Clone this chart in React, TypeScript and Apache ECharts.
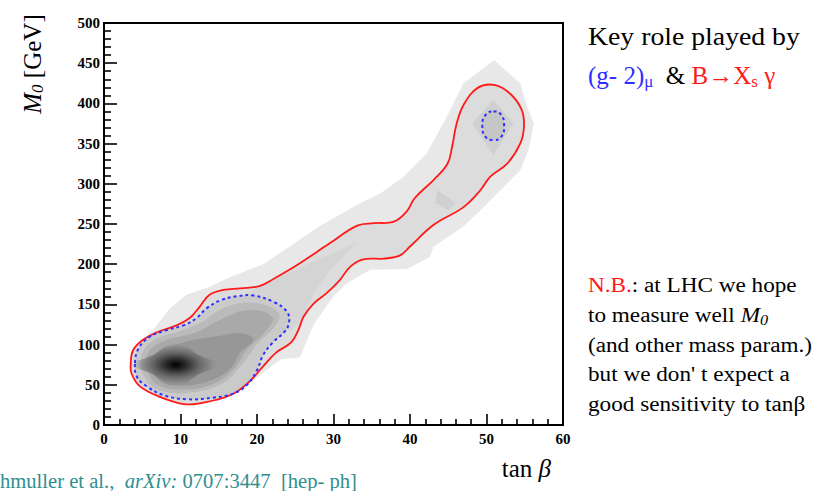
import React, { useEffect, useRef } from "react";
import * as echarts from "echarts";

type P = [number, number];

// Axis ticks (tan beta, M0 in GeV)
const X_TICKS = [0, 10, 20, 30, 40, 50, 60];
const Y_TICKS = [0, 50, 100, 150, 200, 250, 300, 350, 400, 450, 500];

// Outer light-grey likelihood band (tanβ, M0)
const bandOutline: P[] = [
  [3.5, 70], [4.5, 50], [7, 35], [12, 25.5], [16.5, 36], [19.5, 55], [21.2, 68],
  [23.2, 82], [25.6, 84], [27.4, 125], [30, 160], [31.7, 176], [34.8, 193], [39.6, 194],
  [42.6, 209], [43.1, 222], [47.0, 247], [49.2, 267], [51.8, 292], [54.4, 317], [55.5, 342],
  [56.2, 375], [55.3, 396], [54.4, 425], [51.0, 454], [47.0, 425], [44.8, 383], [42.2, 338],
  [39.2, 309], [36.1, 288], [33.9, 278], [28.3, 248], [25.2, 228], [20.8, 200], [16.5, 184],
  [13.8, 172], [10.8, 162], [8.6, 145], [6.4, 118], [5, 106],
];

// Red (outer) contour
const redContour: P[] = [
  [3.5, 77], [3.8, 93], [5.1, 106], [7.1, 116], [9.5, 124], [11.2, 133], [12.5, 147],
  [13.8, 162], [15.6, 168], [17.8, 170], [20.4, 173], [22.2, 182], [25.4, 200], [29.5, 226],
  [33.1, 248], [35.3, 251], [37.9, 253], [39.6, 266], [40.6, 282], [43.1, 305], [44.9, 325],
  [45.5, 346], [46.1, 375], [47.0, 398], [48.8, 419], [51.0, 423], [53.1, 412], [54.6, 392],
  [54.9, 371], [54.4, 350], [52.7, 325], [50.5, 309], [49.2, 292], [47.0, 271], [43.1, 249],
  [40.0, 222], [38.7, 211], [36.6, 207], [33.9, 206], [32.2, 197], [30.8, 180], [29.1, 164],
  [27.4, 151], [26.1, 135], [25.4, 118], [24.5, 103], [22.5, 90], [20.8, 73], [19.0, 54],
  [16.5, 37], [12.5, 27], [10.4, 26], [7.3, 35], [4.7, 48], [3.6, 64],
];

// Blue dashed (inner) contour - main region
const blueContour: P[] = [
  [4.05, 77], [4.5, 95], [6.0, 110], [8.2, 118], [10.4, 124], [12.1, 133], [13.4, 145],
  [15.2, 155], [17.3, 160], [19.5, 161], [22.2, 153], [23.9, 141], [24.2, 128], [23.6, 116],
  [22.1, 103], [20.8, 87], [20.0, 68], [18.7, 50], [16.9, 39], [14.3, 34], [10.8, 32],
  [7.8, 37], [5.6, 48], [4.3, 60],
];

// Blue dashed contour - small island at large tanβ
const blueIsland: P[] = [
  [50.9, 390], [51.9, 386], [52.3, 372], [51.9, 358], [50.9, 354.5], [49.9, 358],
  [49.45, 372], [49.9, 386],
];

// Slightly darker grey structures
const wedge: P[] = [
  [16.5, 153], [22, 180], [33.0, 227], [29.5, 192], [27.4, 164], [26.1, 135], [24.5, 118], [20, 120],
];
const diamondTop: P[] = [[50.9, 405], [53.5, 375], [50.9, 336], [48.1, 375]];
const diamondMid: P[] = [[43.6, 292], [46.0, 276], [45.0, 267], [43.3, 276]];

// Density blob levels around the best fit (≈ tanβ 9.4, M0 75)
const blobL2: P[] = [
  [4.8, 77], [5.3, 95], [7, 108], [10, 117], [12.8, 128], [15.5, 145], [19.5, 152], [22.8, 140],
  [22.5, 125], [20, 100], [18, 75], [15.5, 52], [11, 40], [7, 44], [5.3, 60],
];
const blobL3: P[] = [
  [5.4, 77], [6.1, 94], [8.3, 106], [12, 115], [15, 130], [19, 143], [22, 134], [21, 115],
  [18.8, 95], [17, 70], [14, 50], [10, 44], [7, 50], [5.8, 64],
];
const blobL4: P[] = [
  [6, 77], [7.5, 92], [10.5, 103], [14.5, 110], [18, 114], [19.5, 106], [17.8, 90], [16.5, 70],
  [13.5, 54], [9.5, 49], [7, 57],
];
const blobCore: P[] = [
  [3.8, 75], [6.2, 86], [9.4, 102], [12.6, 86], [15.0, 75], [12.6, 64], [9.4, 48], [6.2, 64],
];

function polySeries(points: P[], style: any, smooth: number) {
  return {
    type: "custom",
    coordinateSystem: "cartesian2d",
    silent: true,
    data: [[points[0][0], points[0][1]]],
    renderItem: (_params: any, api: any) => ({
      type: "polygon",
      shape: { points: points.map((p) => api.coord(p)), smooth },
      style,
    }),
  };
}

const SERIF = "'Liberation Serif', 'DejaVu Serif', 'Times New Roman', serif";
const NB = "\u00a0";

export default function App() {
  const ref = useRef<HTMLDivElement>(null);
  useEffect(() => {
    if (!ref.current) return;
    const chart = echarts.init(ref.current, undefined, { renderer: "svg" });
    const tickLabel = {
      fontFamily: SERIF,
      fontWeight: "bold",
      fontSize: 15,
      color: "#000",
    };
    const coreGradient = {
      type: "radial",
      x: 0.5,
      y: 0.5,
      r: 0.5,
      colorStops: [
        { offset: 0, color: "#000000" },
        { offset: 0.22, color: "#262626" },
        { offset: 0.5, color: "#5e5e5e" },
        { offset: 0.8, color: "rgba(128,128,128,0.7)" },
        { offset: 1, color: "rgba(151,151,151,0)" },
      ],
    };
    const option: any = {
      animation: false,
      backgroundColor: "#fff",
      grid: {
        left: 104,
        right: 251,
        top: 23,
        bottom: 66,
        show: true,
        borderColor: "#000",
        borderWidth: 2,
        backgroundColor: "transparent",
      },
      xAxis: {
        type: "value",
        min: X_TICKS[0],
        max: X_TICKS[X_TICKS.length - 1],
        interval: X_TICKS[1] - X_TICKS[0],
        axisLine: { show: true, lineStyle: { color: "#000", width: 2 } },
        axisTick: { show: true, inside: true, length: 11, lineStyle: { color: "#000", width: 1.6 } },
        minorTick: { show: true, splitNumber: 5, length: 6, lineStyle: { color: "#000", width: 1.6 } },
        splitLine: { show: false },
        minorSplitLine: { show: false },
        axisLabel: { ...tickLabel, margin: 6 },
      },
      yAxis: {
        type: "value",
        min: Y_TICKS[0],
        max: Y_TICKS[Y_TICKS.length - 1],
        interval: Y_TICKS[1] - Y_TICKS[0],
        axisLine: { show: true, lineStyle: { color: "#000", width: 2 } },
        axisTick: { show: true, inside: true, length: 13, lineStyle: { color: "#000", width: 1.6 } },
        minorTick: { show: true, splitNumber: 5, length: 7, lineStyle: { color: "#000", width: 1.6 } },
        splitLine: { show: false },
        minorSplitLine: { show: false },
        axisLabel: { ...tickLabel, margin: 4 },
      },
      series: [
        polySeries(bandOutline, { fill: "#e8e8e8" }, 0),
        polySeries(redContour, { fill: "#dcdcdc" }, 0.4),
        polySeries(wedge, { fill: "#d4d4d4" }, 0),
        polySeries(diamondTop, { fill: "#d0d0d0" }, 0),
        polySeries(diamondMid, { fill: "#d0d0d0" }, 0),
        polySeries(blueIsland, { fill: "#c6c6c6" }, 0.5),
        polySeries(blueContour, { fill: "#cacaca" }, 0.4),
        polySeries(blobL2, { fill: "#bababa" }, 0.4),
        polySeries(blobL3, { fill: "#a9a9a9" }, 0.4),
        polySeries(blobL4, { fill: "#979797" }, 0.4),
        polySeries(blobCore, { fill: coreGradient }, 0.5),
        polySeries(redContour, { fill: "none", stroke: "#ff1a1a", lineWidth: 1.8 }, 0.4),
        polySeries(blueContour, { fill: "none", stroke: "#2f2fff", lineWidth: 2, lineDash: [3, 3] }, 0.4),
        polySeries(blueIsland, { fill: "none", stroke: "#2f2fff", lineWidth: 2, lineDash: [3, 3] }, 0.5),
      ],
      graphic: [
        {
          type: "text",
          x: 32,
          y: 64,
          rotation: Math.PI / 2,
          style: {
            text: `{m|M}{s|0}{n|${NB}[GeV]}`,
            align: "center",
            verticalAlign: "middle",
            rich: {
              m: { fontFamily: SERIF, fontStyle: "italic", fontSize: 25, fill: "#000", lineHeight: 27, verticalAlign: "middle" },
              s: { fontFamily: SERIF, fontStyle: "italic", fontSize: 17, fill: "#000", lineHeight: 12, verticalAlign: "bottom" },
              n: { fontFamily: SERIF, fontSize: 25, fill: "#000", lineHeight: 27, verticalAlign: "middle" },
            },
          },
        },
        {
          type: "text",
          x: 551,
          y: 468,
          style: {
            text: `{n|tan${NB}}{b|β}`,
            align: "right",
            verticalAlign: "middle",
            rich: {
              n: { fontFamily: SERIF, fontSize: 25, fill: "#000" },
              b: { fontFamily: SERIF, fontStyle: "italic", fontSize: 25, fill: "#000" },
            },
          },
        },
        {
          type: "text",
          x: 588,
          y: 36.5,
          scaleX: 1.11,
          style: {
            text: "Key role played by",
            fontFamily: SERIF,
            fontSize: 25,
            fill: "#000",
            align: "left",
            verticalAlign: "middle",
          },
        },
        {
          type: "text",
          x: 588,
          y: 75.5,
          style: {
            text: `{b|(g- 2)}{bs|μ}{k|${NB}${NB}&${NB}}{r|B→X}{rs|s}{r|${NB}γ}`,
            align: "left",
            verticalAlign: "middle",
            rich: {
              b: { fontFamily: SERIF, fontSize: 25, fill: "#2f2fff", lineHeight: 28, verticalAlign: "middle" },
              bs: { fontFamily: SERIF, fontSize: 17, fill: "#2f2fff", lineHeight: 12, verticalAlign: "bottom" },
              k: { fontFamily: SERIF, fontSize: 25, fill: "#000", lineHeight: 28, verticalAlign: "middle" },
              r: { fontFamily: SERIF, fontSize: 25, fill: "#ff1a1a", lineHeight: 28, verticalAlign: "middle" },
              rs: { fontFamily: SERIF, fontSize: 17, fill: "#ff1a1a", lineHeight: 12, verticalAlign: "bottom" },
            },
          },
        },
        {
          type: "text",
          x: 588,
          y: 286,
          scaleX: 1.16,
          style: {
            text: "{r|N.B.}{n|: at LHC we hope}",
            align: "left",
            verticalAlign: "middle",
            rich: {
              r: { fontFamily: SERIF, fontSize: 20, fill: "#ff1a1a" },
              n: { fontFamily: SERIF, fontSize: 20, fill: "#000" },
            },
          },
        },
        {
          type: "text",
          x: 588,
          y: 316,
          scaleX: 1.16,
          style: {
            text: `{n|to measure well${NB}}{m|M}{s|0}`,
            align: "left",
            verticalAlign: "middle",
            rich: {
              n: { fontFamily: SERIF, fontSize: 20, fill: "#000", lineHeight: 22, verticalAlign: "middle" },
              m: { fontFamily: SERIF, fontStyle: "italic", fontSize: 20, fill: "#000", lineHeight: 22, verticalAlign: "middle" },
              s: { fontFamily: SERIF, fontStyle: "italic", fontSize: 14, fill: "#000", lineHeight: 10, verticalAlign: "bottom" },
            },
          },
        },
        {
          type: "text",
          x: 588,
          y: 345.5,
          scaleX: 1.16,
          style: { text: "(and other mass param.)", fontFamily: SERIF, fontSize: 20, fill: "#000", align: "left", verticalAlign: "middle" },
        },
        {
          type: "text",
          x: 588,
          y: 375,
          scaleX: 1.16,
          style: { text: "but we don' t expect a", fontFamily: SERIF, fontSize: 20, fill: "#000", align: "left", verticalAlign: "middle" },
        },
        {
          type: "text",
          x: 588,
          y: 405,
          scaleX: 1.16,
          style: { text: "good sensitivity to tanβ", fontFamily: SERIF, fontSize: 20, fill: "#000", align: "left", verticalAlign: "middle" },
        },
        {
          type: "text",
          x: 0,
          y: 481,
          scaleX: 1.03,
          style: {
            text: `{n|hmuller et al.,${NB}${NB}}{i|arXiv:}{n|${NB}0707:3447${NB}${NB}[hep- ph]}`,
            align: "left",
            verticalAlign: "middle",
            rich: {
              n: { fontFamily: SERIF, fontSize: 20, fill: "#2f8f8f" },
              i: { fontFamily: SERIF, fontStyle: "italic", fontSize: 20, fill: "#2f8f8f" },
            },
          },
        },
      ],
    };
    chart.setOption(option);
    return () => chart.dispose();
  }, []);
  return (
    <div
      ref={ref}
      style={{ position: "fixed", left: 0, top: 0, width: 814, height: 491, background: "#fff" }}
    />
  );
}
